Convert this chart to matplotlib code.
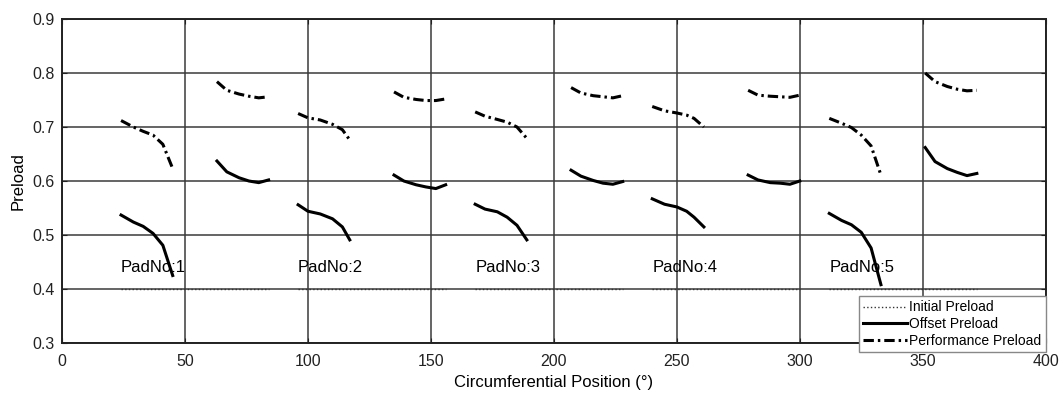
import matplotlib
matplotlib.use("Agg")
import matplotlib.pyplot as plt

plt.rcParams['font.family'] = ['Liberation Sans', 'DejaVu Sans']

# pad labels and extents (deg)
pad_names = ['PadNo:1', 'PadNo:2', 'PadNo:3', 'PadNo:4', 'PadNo:5']
pad_start = [24, 96, 168, 240, 312]
pad_end = [84, 156, 228, 300, 372]
initial_preload = 0.4

# first half of each pad
pos_a = [[24, 29, 33, 37, 41, 45],
         [96, 100, 105, 110, 114, 117],
         [168, 172, 177, 181, 185, 189],
         [240, 245, 250, 254, 257, 261],
         [312, 317, 321, 325, 329, 333]]
offset_a = [[0.537, 0.524, 0.516, 0.503, 0.481, 0.425],
            [0.556, 0.544, 0.539, 0.530, 0.515, 0.491],
            [0.557, 0.548, 0.543, 0.533, 0.518, 0.491],
            [0.567, 0.557, 0.552, 0.544, 0.533, 0.515],
            [0.540, 0.527, 0.519, 0.505, 0.476, 0.408]]
perf_a = [[0.712, 0.700, 0.692, 0.685, 0.668, 0.623],
          [0.725, 0.717, 0.713, 0.705, 0.695, 0.676],
          [0.728, 0.720, 0.714, 0.709, 0.700, 0.679],
          [0.738, 0.730, 0.726, 0.722, 0.716, 0.700],
          [0.716, 0.707, 0.699, 0.685, 0.665, 0.611]]

# second half of each pad
pos_b = [[63, 67, 72, 76, 80, 84],
         [135, 139, 144, 148, 152, 156],
         [207, 211, 216, 220, 224, 228],
         [279, 283, 288, 292, 296, 300],
         [351, 355, 360, 364, 368, 372]]
offset_b = [[0.637, 0.617, 0.606, 0.600, 0.597, 0.602],
            [0.611, 0.600, 0.593, 0.589, 0.586, 0.593],
            [0.620, 0.609, 0.601, 0.596, 0.594, 0.599],
            [0.611, 0.602, 0.597, 0.596, 0.594, 0.600],
            [0.662, 0.636, 0.623, 0.616, 0.610, 0.614]]
perf_b = [[0.784, 0.768, 0.761, 0.757, 0.754, 0.756],
          [0.765, 0.755, 0.751, 0.749, 0.749, 0.752],
          [0.773, 0.763, 0.758, 0.756, 0.754, 0.758],
          [0.768, 0.759, 0.757, 0.756, 0.755, 0.759],
          [0.800, 0.784, 0.775, 0.770, 0.767, 0.768]]

fig = plt.figure(figsize=(10.64, 3.96), dpi=100)
ax = fig.add_axes([0.0583, 0.1338, 0.9245, 0.8182])

dashdot = (0, (3.4, 1.3, 0.8, 1.3))
for i in range(5):
    h_init, = ax.plot([pad_start[i], pad_end[i]], [initial_preload, initial_preload],
                      ls=':', lw=1.0, color='#333333')
    h_off, = ax.plot(pos_a[i], offset_a[i], '-', lw=2.2, color='black')
    ax.plot(pos_b[i], offset_b[i], '-', lw=2.2, color='black')
    h_perf, = ax.plot(pos_a[i], perf_a[i], ls=dashdot, lw=2.2, color='black')
    ax.plot(pos_b[i], perf_b[i], ls=dashdot, lw=2.2, color='black')
    ax.text(pad_start[i], 0.439, pad_names[i], fontsize=12, va='center', ha='left')

ax.set_xlim(0, 400)
ax.set_ylim(0.3, 0.9)
ax.set_xticks(range(0, 401, 50))
ax.set_yticks([0.3, 0.4, 0.5, 0.6, 0.7, 0.8, 0.9])
ax.set_yticklabels(['0.3', '0.4', '0.5', '0.6', '0.7', '0.8', '0.9'])
ax.grid(True, color='#3a3a3a', lw=1.1)
ax.set_axisbelow(True)
ax.tick_params(direction='in', labelsize=11.5, colors='#222222', top=True, right=True)
ax.tick_params(axis='x', pad=8)
ax.tick_params(axis='y', pad=5)
for s in ax.spines.values():
    s.set_linewidth(1.4)
    s.set_color('#222222')

ax.set_xlabel('Circumferential Position (°)', fontsize=12, labelpad=4)
ax.set_ylabel('Preload', fontsize=12, labelpad=5)

leg = ax.legend([h_init, h_off, h_perf], ['Initial Preload', 'Offset Preload', 'Performance Preload'],
                loc='lower right', bbox_to_anchor=(1.0, -0.028), borderaxespad=0,
                fontsize=10, handlelength=3.2, handletextpad=0.15, labelspacing=0.2,
                borderpad=0.3, fancybox=False, framealpha=1, edgecolor='#888888')
leg.get_frame().set_linewidth(1.0)

fig.savefig('out.png', dpi=100)
